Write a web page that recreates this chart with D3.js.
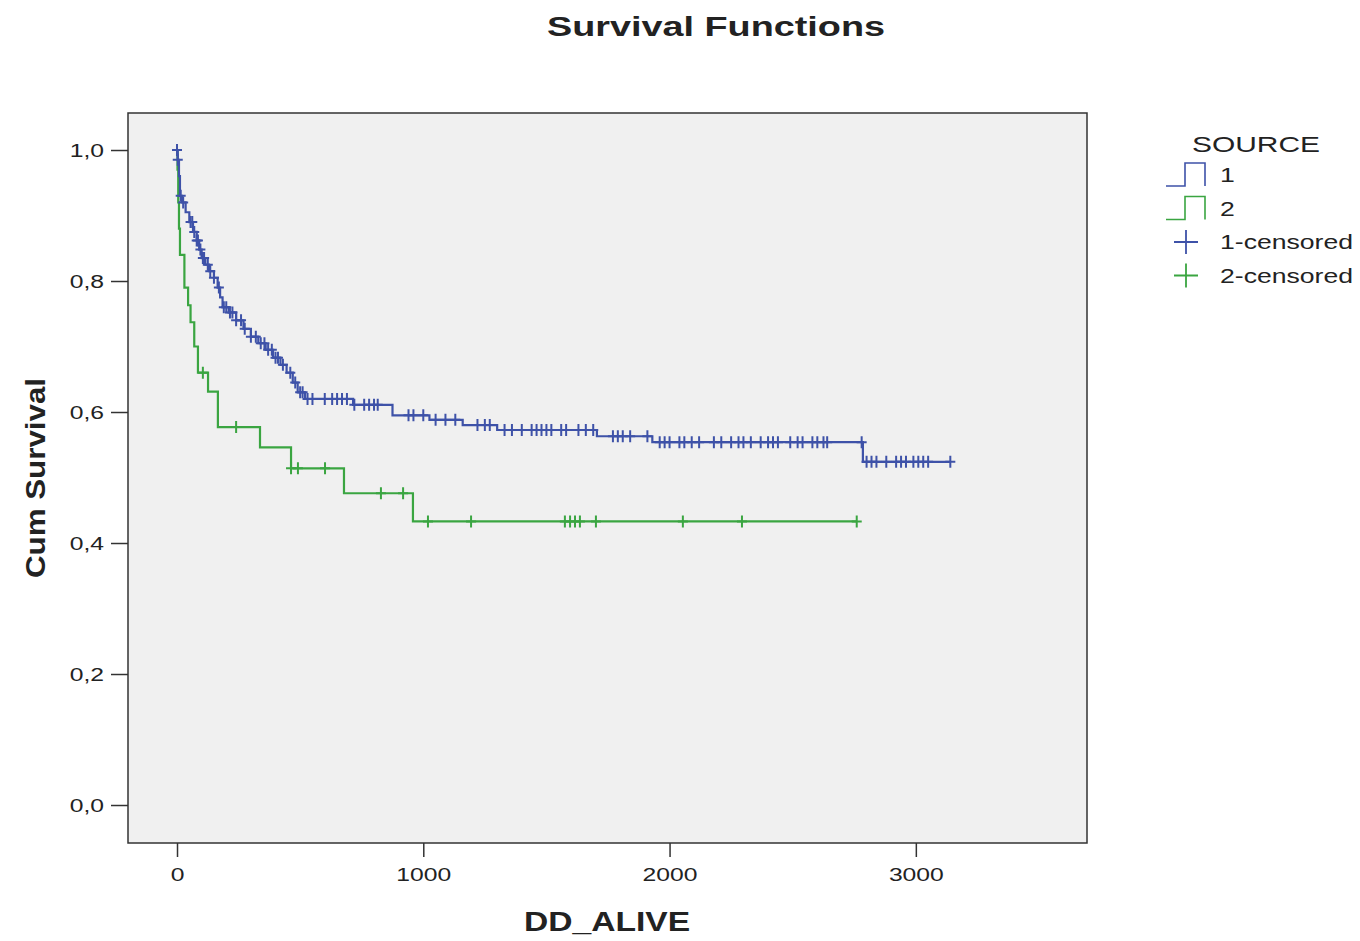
<!DOCTYPE html>
<html lang="en">
<head>
<meta charset="UTF-8">
<title>Survival Functions</title>
<script src="https://d3js.org/d3.v7.min.js"></script>
<style>
  body { margin: 0; background: #fff; }
  svg text { font-family: "Liberation Sans", Arial, sans-serif; fill: #222; }
</style>
</head>
<body>
<div id="chart"></div>
<script>
// step events: time and survival after the step
var blueTimes = [0, 3, 8, 12, 20, 35, 50, 65, 80, 90, 100, 115, 130, 150, 165, 175, 185, 210, 240, 270, 300, 330, 360, 390, 420, 445, 470, 490, 520, 715, 875, 1025, 1160, 1300, 1705, 1930, 2785];
var blueSurv  = [1.0, 0.985, 0.96, 0.93, 0.92, 0.905, 0.89, 0.875, 0.862, 0.848, 0.835, 0.825, 0.815, 0.805, 0.79, 0.775, 0.76, 0.752, 0.74, 0.727, 0.715, 0.705, 0.695, 0.683, 0.672, 0.66, 0.645, 0.63, 0.62, 0.611, 0.595, 0.588, 0.58, 0.5725, 0.563, 0.554, 0.524];
var blueEnd = 3140;
var blueCensored = [0, 3, 15, 25, 55, 62, 70, 80, 85, 95, 105, 110, 125, 135, 150, 170, 190, 200, 215, 225, 240, 260, 275, 300, 320, 340, 355, 370, 385, 400, 410, 430, 460, 480, 500, 510, 530, 550, 600, 630, 650, 670, 690, 720, 760, 780, 800, 815, 940, 960, 1000, 1050, 1090, 1130, 1220, 1250, 1270, 1330, 1360, 1400, 1440, 1460, 1480, 1500, 1520, 1560, 1580, 1630, 1660, 1690, 1770, 1790, 1810, 1840, 1910, 1960, 1980, 2000, 2040, 2060, 2090, 2120, 2180, 2210, 2250, 2280, 2300, 2330, 2370, 2400, 2420, 2440, 2490, 2520, 2540, 2580, 2600, 2625, 2640, 2780, 2800, 2820, 2840, 2880, 2920, 2940, 2960, 2990, 3010, 3030, 3050, 3140];

var greenTimes = [0, 2, 5, 8, 12, 30, 45, 55, 70, 85, 126, 166, 337, 463, 678, 958];
var greenSurv  = [1.0, 0.97, 0.92, 0.88, 0.84, 0.79, 0.763, 0.737, 0.70, 0.66, 0.631, 0.577, 0.546, 0.514, 0.476, 0.433];
var greenEnd = 2760;
var greenCensored = [105, 240, 463, 491, 601, 828, 918, 1019, 1194, 1575, 1596, 1616, 1636, 1701, 2054, 2294, 2760];

var xTicks = [0, 1000, 2000, 3000];
var yTicks = [0, 0.2, 0.4, 0.6, 0.8, 1.0];
var legendLabels = ["1", "2", "1-censored", "2-censored"];

var width = 1360, height = 941;
var plot = {left: 128, right: 1087, top: 113, bottom: 843};
var blue = "#3e52a8", green = "#3aa541";
var stretch = 1.3; // text in the original is drawn wide

var svg = d3.select("#chart").append("svg")
    .attr("width", width)
    .attr("height", height);

var x = d3.scaleLinear().domain([-199, 3695]).range([plot.left, plot.right]);
var y = d3.scaleLinear().domain([-0.058, 1.0565]).range([plot.bottom, plot.top]);

// put text at (px,py) and stretch it sideways around that point
function wideText(sel, px, py, sx, rot) {
    return sel.attr("x", 0).attr("y", 0)
        .attr("transform", "translate(" + px + "," + py + ")" + (rot ? " rotate(" + rot + ")" : "") + " scale(" + sx + ",1)");
}

// plot background + frame
svg.append("rect")
    .attr("x", plot.left).attr("y", plot.top)
    .attr("width", plot.right - plot.left).attr("height", plot.bottom - plot.top)
    .attr("fill", "#f0f0f0")
    .attr("stroke", "#333").attr("stroke-width", 1.5);

// axes
var yAxis = d3.axisLeft(y).tickValues(yTicks).tickSize(17)
    .tickFormat(function(d){ return d3.format(".1f")(d).replace(".", ","); });
var gy = svg.append("g").attr("transform", "translate(" + plot.left + ",0)").call(yAxis);
gy.select(".domain").remove();
gy.selectAll("line").attr("stroke", "#333").attr("stroke-width", 1.5);
gy.selectAll("text").style("font-size", "19px").attr("fill", "#222")
    .attr("dy", "0.35em")
    .each(function(){ wideText(d3.select(this), -24, 0, stretch); });

var xAxis = d3.axisBottom(x).tickValues(xTicks).tickSize(14).tickFormat(d3.format("d"));
var gx = svg.append("g").attr("transform", "translate(0," + plot.bottom + ")").call(xAxis);
gx.select(".domain").remove();
gx.selectAll("line").attr("stroke", "#333").attr("stroke-width", 1.5);
gx.selectAll("text").style("font-size", "19px").attr("fill", "#222")
    .attr("dy", "0.71em")
    .each(function(){ wideText(d3.select(this), 0, 25, stretch); });

// survival at time t
function survAt(times, surv, t) {
    var i = d3.bisectRight(times, t) - 1;
    return surv[Math.max(0, i)];
}

function stepPoints(times, surv, end) {
    var pts = times.map(function(t, i){ return [t, surv[i]]; });
    pts.push([end, surv[surv.length - 1]]);
    return pts;
}

var line = d3.line()
    .x(function(d){ return x(d[0]); })
    .y(function(d){ return y(d[1]); })
    .curve(d3.curveStepAfter);

function drawSeries(times, surv, end, censored, color) {
    svg.append("path")
        .datum(stepPoints(times, surv, end))
        .attr("d", line)
        .attr("fill", "none")
        .attr("stroke", color)
        .attr("stroke-width", 2.2);

    svg.append("g").selectAll("path")
        .data(censored)
        .enter()
        .append("path")
        .attr("transform", function(d){ return "translate(" + x(d) + "," + y(survAt(times, surv, d)) + ")"; })
        .attr("d", "M-5,0H5M0,-6V6")
        .attr("stroke", color)
        .attr("stroke-width", 2);
}

drawSeries(greenTimes, greenSurv, greenEnd, greenCensored, green);
drawSeries(blueTimes, blueSurv, blueEnd, blueCensored, blue);

// titles
wideText(svg.append("text"), 716, 36, 1.35)
    .attr("text-anchor", "middle")
    .style("font-size", "28px").style("font-weight", "bold")
    .text("Survival Functions");

wideText(svg.append("text"), 607, 931, 1.2)
    .attr("text-anchor", "middle")
    .style("font-size", "28px").style("font-weight", "bold")
    .text("DD_ALIVE");

wideText(svg.append("text"), 45, 478, 1.16, -90)
    .attr("text-anchor", "middle")
    .style("font-size", "27px").style("font-weight", "bold")
    .text("Cum Survival");

// legend
var legend = svg.append("g");
wideText(legend.append("text"), 1256, 152, 1.36)
    .attr("text-anchor", "middle")
    .style("font-size", "22px")
    .text("SOURCE");

var legColors = [blue, green, blue, green];
legendLabels.forEach(function(lbl, i){
    var cy = 175 + i * 33.5;
    var g = legend.append("g").attr("transform", "translate(0," + cy + ")");
    if (i < 2) {
        g.append("path")
            .attr("d", "M1166,11H1185V-12H1205V11")
            .attr("fill", "none")
            .attr("stroke", legColors[i])
            .attr("stroke-width", 1.6);
    } else {
        g.append("path")
            .attr("d", "M1174,0H1198M1186,-12V12")
            .attr("stroke", legColors[i])
            .attr("stroke-width", 1.8);
    }
    wideText(g.append("text"), 1220, 7, 1.33)
        .style("font-size", "20px")
        .text(lbl);
});
</script>
</body>
</html>
